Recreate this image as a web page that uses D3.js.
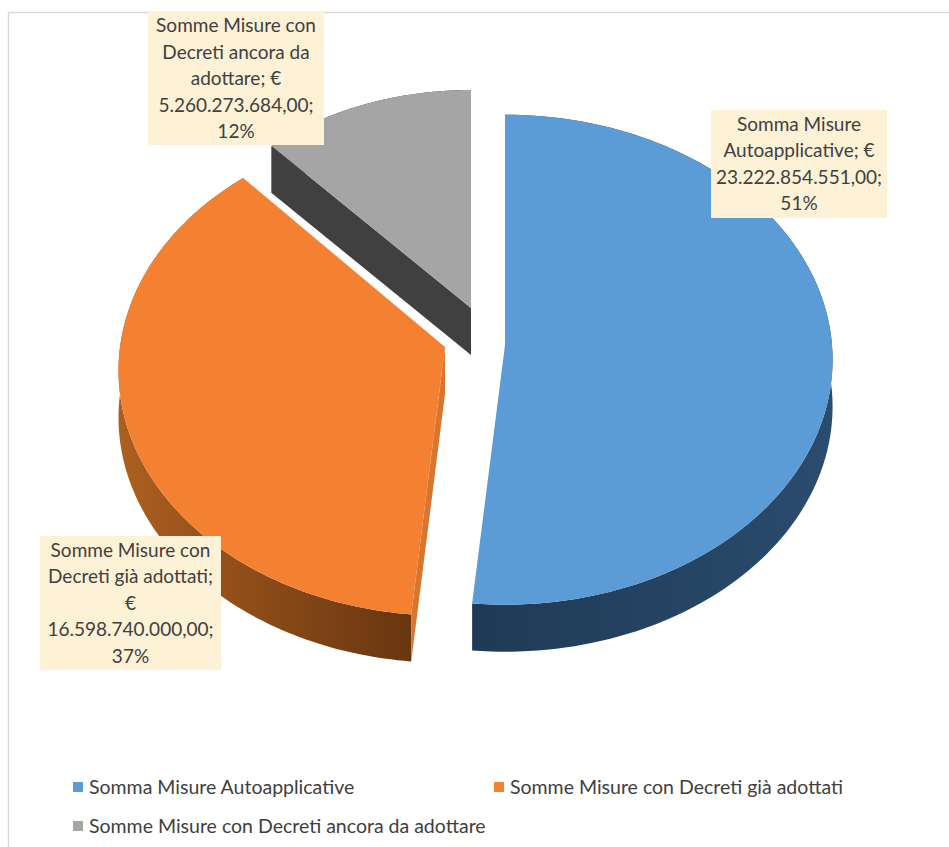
<!DOCTYPE html>
<html>
<head>
<meta charset="utf-8">
<script src="https://cdn.jsdelivr.net/npm/d3@7"></script>
<style>
	html, body { margin: 0; padding: 0; background: #fff; overflow: hidden; }
	text { font-family: Lato, "Open Sans", sans-serif; fill: #404040; }
</style>
</head>
<body>
<div id="charts"></div>
<script>
var categories = [
	"Somma Misure Autoapplicative",
	"Somme Misure con Decreti già adottati",
	"Somme Misure con Decreti ancora da adottare"
];
var amounts = [23222854551, 16598740000, 5260273684];
var labelLines = [
	["Somma Misure", "Autoapplicative; €", "23.222.854.551,00;", "51%"],
	["Somme Misure con", "Decreti già adottati;", "€", "16.598.740.000,00;", "37%"],
	["Somme Misure con", "Decreti ancora da", "adottare; €", "5.260.273.684,00;", "12%"]
];
var topColors = ["#5b9bd6", "#f48132", "#a5a5a5"];
var wallColors = [["#1f3a56", "#2a4c6e"], ["#ad5f20", "#683610"], ["#404040", "#404040"]];
var innerWallColors = ["#3f78ad", "#d9752d", "#404040"];

// how each exploded slice sits on the page: apex, radii, perspective
var sliceLayout = [
	{ ax: 505, ay: 345, rx: 327, ry: 245, p: 0.06 },
	{ ax: 445, ay: 347, rx: 325, ry: 245, p: 0.097 },
	{ ax: 471, ay: 308, rx: 298, ry: 218, p: 0 }
];
var boxLayout = [
	{ x: 711, y: 110, w: 176, h: 108 },
	{ x: 40, y: 536, w: 181, h: 134 },
	{ x: 148, y: 12, w: 176, h: 133 }
];
var legendLayout = [
	{ x: 73, y: 787 },
	{ x: 494, y: 787 },
	{ x: 73, y: 826 }
];
var depth = 47;
var lineHeight = 26.5;

var svg = d3.select("#charts")
	.append("svg")
	.attr("width", 949)
	.attr("height", 847);

// chart frame
svg.append("path")
	.attr("d", "M8.5,847V12.5H949")
	.attr("fill", "none")
	.attr("stroke", "#d9d9d9")
	.attr("stroke-width", 1.5);

var pie = d3.pie().sort(null);
var arcs = pie(amounts);
var line = d3.line();
var defs = svg.append("defs");

function project(layout, angle, shift) {
	var X = Math.sin(angle);
	var Y = -Math.cos(angle);
	var s = 1 + layout.p * Y;
	return [layout.ax + layout.rx * X * s, layout.ay + layout.ry * Y * s + shift];
}

function rimAngles(d) {
	return d3.range(0, 121).map(function (i) {
		return d.startAngle + (d.endAngle - d.startAngle) * i / 120;
	});
}

arcs.forEach(function (d, i) {
	var grad = defs.append("linearGradient").attr("id", "wall" + i);
	grad.append("stop").attr("offset", "0%").attr("stop-color", wallColors[i][0]);
	grad.append("stop").attr("offset", "100%").attr("stop-color", wallColors[i][1]);
});

// back slice first so nearer ones overlap it
var order = [2, 1, 0];
order.forEach(function (i) {
	var d = arcs[i];
	var layout = sliceLayout[i];
	var angles = rimAngles(d);
	var rimTop = angles.map(function (a) { return project(layout, a, 0); });
	var rimLow = angles.map(function (a) { return project(layout, a, depth); }).reverse();
	var apex = [layout.ax, layout.ay];
	var apexLow = [layout.ax, layout.ay + depth];

	// outer wall
	svg.append("path")
		.attr("d", line(rimTop.concat(rimLow)) + "Z")
		.attr("fill", "url(#wall" + i + ")");

	// cut face along the starting edge
	svg.append("path")
		.attr("d", line([apex, rimTop[0], rimLow[rimLow.length - 1], apexLow]) + "Z")
		.attr("fill", innerWallColors[i]);

	// top face
	svg.append("path")
		.attr("d", line([apex].concat(rimTop)) + "Z")
		.attr("fill", topColors[i]);
});

// data labels
labelLines.forEach(function (lines, i) {
	var box = boxLayout[i];
	var g = svg.append("g");
	g.append("rect")
		.attr("x", box.x)
		.attr("y", box.y)
		.attr("width", box.w)
		.attr("height", box.h)
		.attr("fill", "#fdf1d6");
	var firstLine = box.y + box.h / 2 - (lines.length - 1) * lineHeight / 2 + 6.5;
	g.selectAll("text")
		.data(lines)
		.enter()
		.append("text")
		.attr("x", box.x + box.w / 2)
		.attr("y", function (t, j) { return firstLine + j * lineHeight; })
		.attr("text-anchor", "middle")
		.attr("font-size", 19)
		.text(function (t) { return t; });
});

// legend
var legend = svg.selectAll("g.legend")
	.data(categories)
	.enter()
	.append("g")
	.attr("class", "legend")
	.attr("transform", function (d, i) {
		return "translate(" + legendLayout[i].x + "," + legendLayout[i].y + ")";
	});
legend.append("rect")
	.attr("x", 0)
	.attr("y", -5)
	.attr("width", 10)
	.attr("height", 10)
	.attr("fill", function (d, i) { return topColors[i]; });
legend.append("text")
	.attr("x", 16)
	.attr("y", 6.5)
	.attr("font-size", 19.5)
	.text(function (d) { return d; });
</script>
</body>
</html>
